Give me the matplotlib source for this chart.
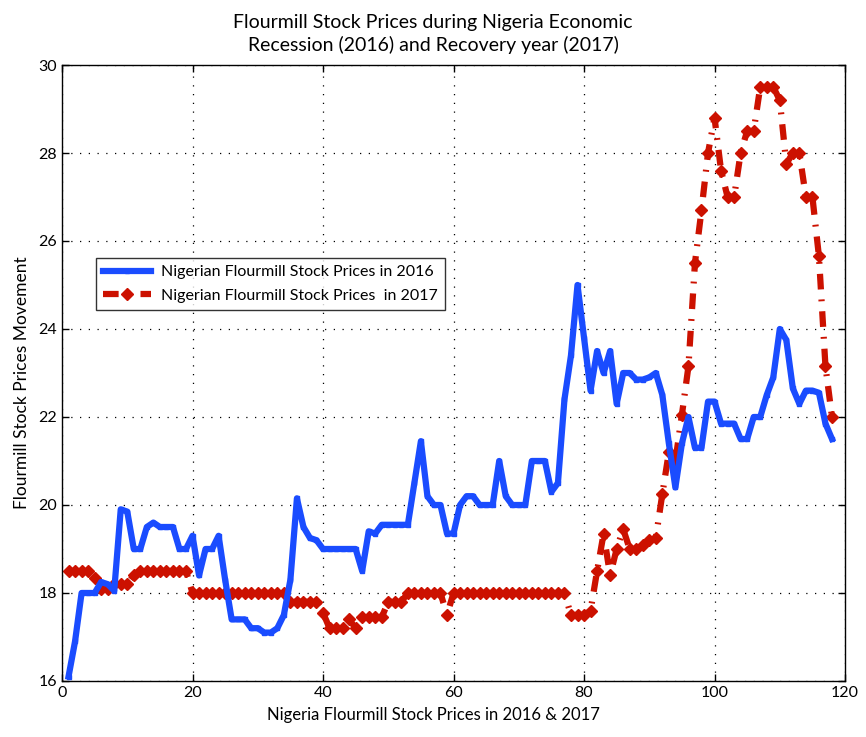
import matplotlib
matplotlib.use("Agg")
import matplotlib.pyplot as plt
import numpy as np

plt.rcParams['font.family'] = ['Lato', 'DejaVu Sans']

days = list(range(1, 119))
prices_2016 = [
    16.1, 16.9, 18.0, 18.0, 18.0, 18.25, 18.2, 18.05, 19.9, 19.85,
    19.0, 19.0, 19.5, 19.6, 19.5, 19.5, 19.5, 19.0, 19.0, 19.3,
    18.4, 19.0, 19.0, 19.3, 18.3, 17.4, 17.4, 17.4, 17.2, 17.2,
    17.1, 17.1, 17.2, 17.5, 18.3, 20.15, 19.5, 19.25, 19.2, 19.0,
    19.0, 19.0, 19.0, 19.0, 19.0, 18.5, 19.4, 19.35, 19.55, 19.55,
    19.55, 19.55, 19.55, 20.5, 21.45, 20.2, 20.0, 20.0, 19.35, 19.35,
    20.0, 20.2, 20.2, 20.0, 20.0, 20.0, 21.0, 20.2, 20.0, 20.0,
    20.0, 21.0, 21.0, 21.0, 20.3, 20.5, 22.4, 23.4, 25.0, 23.8,
    22.6, 23.5, 23.0, 23.5, 22.3, 23.0, 23.0, 22.85, 22.85, 22.9,
    23.0, 22.5, 21.4, 20.4, 21.4, 22.0, 21.3, 21.3, 22.35, 22.35,
    21.85, 21.85, 21.85, 21.5, 21.5, 22.0, 22.0, 22.5, 22.9, 24.0,
    23.75, 22.65, 22.3, 22.6, 22.6, 22.55, 21.85, 21.5,
]
prices_2017 = [
    18.5, 18.5, 18.5, 18.5, 18.35, 18.1, 18.1, 18.2, 18.2, 18.2,
    18.4, 18.5, 18.5, 18.5, 18.5, 18.5, 18.5, 18.5, 18.5, 18.0,
    18.0, 18.0, 18.0, 18.0, 18.0, 18.0, 18.0, 18.0, 18.0, 18.0,
    18.0, 18.0, 18.0, 18.0, 17.8, 17.8, 17.8, 17.8, 17.8, 17.55,
    17.2, 17.2, 17.2, 17.4, 17.2, 17.45, 17.45, 17.45, 17.45, 17.8,
    17.8, 17.8, 18.0, 18.0, 18.0, 18.0, 18.0, 18.0, 17.5, 18.0,
    18.0, 18.0, 18.0, 18.0, 18.0, 18.0, 18.0, 18.0, 18.0, 18.0,
    18.0, 18.0, 18.0, 18.0, 18.0, 18.0, 18.0, 17.5, 17.5, 17.5,
    17.6, 18.5, 19.35, 18.4, 19.0, 19.45, 19.0, 19.0, 19.1, 19.2,
    19.25, 20.25, 21.2, 21.0, 22.05, 23.15, 25.5, 26.7, 28.0, 28.8,
    27.6, 27.0, 27.0, 28.0, 28.5, 28.5, 29.5, 29.5, 29.5, 29.2,
    27.75, 28.0, 28.0, 27.0, 27.0, 25.65, 23.15, 22.0,
]

label_2016 = "Nigerian Flourmill Stock Prices in 2016"
label_2017 = "Nigerian Flourmill Stock Prices  in 2017"
title = "Flourmill Stock Prices during Nigeria Economic\nRecession (2016) and Recovery year (2017)"
xlabel = "Nigeria Flourmill Stock Prices in 2016 & 2017"
ylabel = "Flourmill Stock Prices Movement"

blue = '#1a4cff'
red = '#cc1100'

fig = plt.figure(figsize=(8.66, 7.37), dpi=100)
ax = fig.add_axes([0.0716, 0.076, 0.9042, 0.8358])

ax.plot(days, prices_2016, color=blue, lw=4.5, marker='s', markersize=3,
        label=label_2016, zorder=3)
ax.plot(days, prices_2017, color=red, lw=4.5, marker='D', markersize=6,
        linestyle=(0, (2.5, 1.6, 0.3, 1.6)), label=label_2017, zorder=2)

ax.set_xlim(0, 120)
ax.set_ylim(16, 30)
ax.set_xticks(np.arange(0, 121, 20))
ax.set_yticks(np.arange(16, 31, 2))
ax.tick_params(direction='in', length=5, width=1, top=True, right=True,
               labelsize=11.5)
ax.grid(True, color='black', linestyle=(0, (1, 6)), linewidth=0.9)
for s in ax.spines.values():
    s.set_linewidth(1.0)

ax.set_title(title, fontsize=14, pad=10, linespacing=1.35, x=0.474)
ax.set_xlabel(xlabel, fontsize=12, labelpad=5, x=0.474)
ax.set_ylabel(ylabel, fontsize=12.5, labelpad=6, y=0.485)

leg = ax.legend(loc='upper left', bbox_to_anchor=(0.0434, 0.687), fontsize=11.5,
                frameon=True, fancybox=False, edgecolor='black',
                handlelength=3.0, handletextpad=0.6, borderpad=0.45,
                labelspacing=0.6, borderaxespad=0)
leg.get_frame().set_linewidth(1.0)

fig.savefig('out.png', dpi=100)
